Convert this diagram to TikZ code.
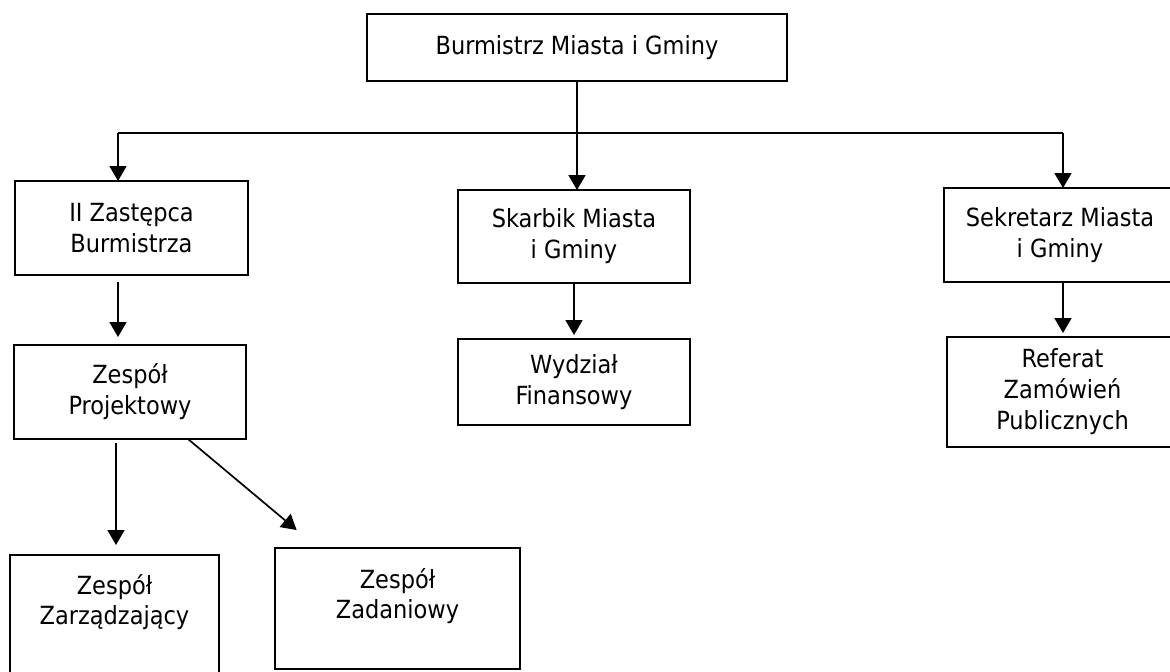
\documentclass[tikz,border=0pt]{standalone}
\usepackage{fontspec}
\setmainfont{DejaVu Sans Condensed}
\usetikzlibrary{arrows.meta,calc}
\begin{document}
\begin{tikzpicture}[x=1pt,y=-1pt,
  box/.style={draw=black,line width=1.7pt,rectangle,inner sep=0pt,outer sep=0pt,
    align=center,font=\fontsize{25}{31}\selectfont},
  txt/.style={inner sep=0pt,align=center,font=\fontsize{25}{30}\selectfont},
  conn/.style={line width=1.7pt},
  arr/.style={line width=1.7pt,-{Triangle[length=15pt,width=17pt]}}]
\useasboundingbox (0,0) rectangle (1170,672);
\clip (0,0) rectangle (1170,672);
% boxes
\node[box,minimum width=420pt,minimum height=67pt] (top) at (577,47.5) {Burmistrz Miasta i Gminy};
\node[box,minimum width=233pt,minimum height=94pt] (zas) at (131.5,228) {II Zastępca\\Burmistrza};
\node[box,minimum width=232pt,minimum height=93pt] (ska) at (574,236.5) {Skarbik Miasta\\i Gminy};
\node[box,minimum width=232pt,minimum height=94pt] (sek) at (1060,235) {Sekretarz Miasta\\i Gminy};
\node[box,minimum width=232pt,minimum height=94pt] (proj) at (130,392) {Zespół\\Projektowy};
\node[box,minimum width=232pt,minimum height=86pt] (wyd) at (574,382) {Wydział\\Finansowy};
\node[box,minimum width=231pt,minimum height=110pt] (ref) at (1062.5,392) {Referat\\Zamówień\\Publicznych};
\node[box,minimum width=209pt,minimum height=135pt] (zar) at (114.5,622.5) {};
\node[box,minimum width=245pt,minimum height=121pt] (zad) at (397.5,608.5) {};
\node[txt,anchor=north] (zartxt) at (114.5,574) {Zespół\\Zarządzający};
\node[txt,anchor=north] (zadtxt) at (397.5,568) {Zespół\\Zadaniowy};
% connectors
\coordinate (hl) at (118,133);
\coordinate (hr) at (1063,133);
\coordinate (cz) at (118,0);
\coordinate (cp) at (116,0);
\coordinate (cs) at (1063,0);
\draw[arr] (top.south) -- (top.south |- ska.north);
\draw[conn] (hl) -- (hr);
\draw[arr] (hl) -- (hl |- zas.north);
\draw[arr] (hr) -- (hr |- sek.north);
\draw[arr,shorten <=7pt,shorten >=8pt] (cz |- zas.south) -- (cz |- proj.north);
\draw[arr,shorten >=10pt] ([yshift=-4pt]cp |- proj.south) -- (cp |- zar.north);
\draw[arr,shorten >=28pt] ($(proj.south west)!0.75!(proj.south east)$) -- ($(zad.north west)!0.176!(zad.north east)$);
\draw[arr,shorten >=4pt] (ska.south) -- (wyd.north);
\draw[arr,shorten >=4pt] (cs |- sek.south) -- (cs |- ref.north);
\end{tikzpicture}
\end{document}
